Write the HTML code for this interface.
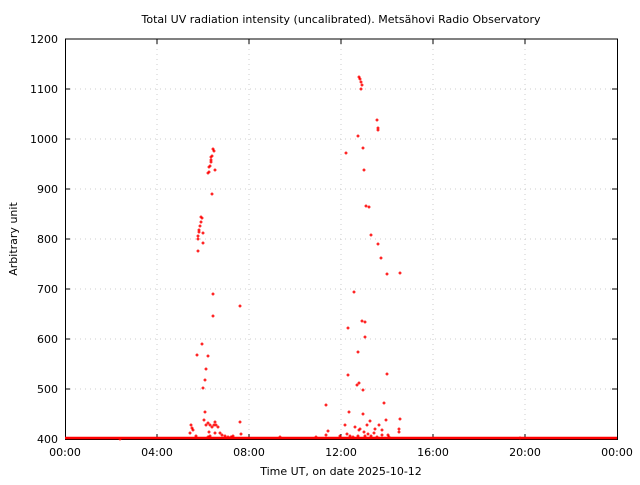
<!DOCTYPE html>
<html><head><meta charset="utf-8"><style>
html,body{margin:0;padding:0;background:#fff;}
text{font-family:"DejaVu Sans","Liberation Sans",sans-serif;font-size:11px;fill:#000;}
</style></head><body>
<svg width="640" height="480" xmlns="http://www.w3.org/2000/svg" xmlns:xlink="http://www.w3.org/1999/xlink">
<defs><path id="c" d="M-1.5 0h3M0 -1.5v3" stroke="#f00" stroke-width="1.2" fill="none"/></defs>
<rect width="640" height="480" fill="#fff"/>
<text x="341" y="23" text-anchor="middle">Total UV radiation intensity (uncalibrated). Metsähovi Radio Observatory</text>
<g stroke="#ccc" stroke-dasharray="1,4" stroke-width="1">
<line x1="65" y1="89" x2="617" y2="89"/><line x1="65" y1="139" x2="617" y2="139"/><line x1="65" y1="189" x2="617" y2="189"/><line x1="65" y1="239" x2="617" y2="239"/><line x1="65" y1="289" x2="617" y2="289"/><line x1="65" y1="339" x2="617" y2="339"/><line x1="65" y1="389" x2="617" y2="389"/>
<line x1="157" y1="39" x2="157" y2="439"/><line x1="249" y1="39" x2="249" y2="439"/><line x1="341" y1="39" x2="341" y2="439"/><line x1="433" y1="39" x2="433" y2="439"/><line x1="525" y1="39" x2="525" y2="439"/>
</g>
<g stroke="#000" stroke-width="1">
<path d="M65.5 39v400.5h552V39z" fill="none"/>
<path d="M65 89h5M65 139h5M65 189h5M65 239h5M65 289h5M65 339h5M65 389h5M617 89h-5M617 139h-5M617 189h-5M617 239h-5M617 289h-5M617 339h-5M617 389h-5M157 439v-5M249 439v-5M341 439v-5M433 439v-5M525 439v-5M157 39v5M249 39v5M341 39v5M433 39v5M525 39v5"/>
</g>
<g text-anchor="end">
<text x="58" y="443">400</text><text x="58" y="393">500</text><text x="58" y="343">600</text><text x="58" y="293">700</text><text x="58" y="243">800</text><text x="58" y="193">900</text><text x="58" y="143">1000</text><text x="58" y="93">1100</text><text x="58" y="43">1200</text>
</g>
<g text-anchor="middle">
<text x="65" y="456">00:00</text><text x="157" y="456">04:00</text><text x="249" y="456">08:00</text><text x="341" y="456">12:00</text><text x="433" y="456">16:00</text><text x="525" y="456">20:00</text><text x="617" y="456">00:00</text>
<text x="341" y="475">Time UT, on date 2025-10-12</text>
</g>
<text transform="translate(17,239) rotate(-90)" text-anchor="middle">Arbitrary unit</text>
<line x1="65" y1="438" x2="617" y2="438" stroke="#f00" stroke-width="2.5"/>
<g>
<use xlink:href="#c" x="213" y="149"/><use xlink:href="#c" x="214" y="151"/><use xlink:href="#c" x="212" y="156"/><use xlink:href="#c" x="211" y="157"/><use xlink:href="#c" x="211" y="160"/><use xlink:href="#c" x="211" y="162"/><use xlink:href="#c" x="210" y="166"/><use xlink:href="#c" x="209" y="167"/><use xlink:href="#c" x="209" y="172"/><use xlink:href="#c" x="208" y="173"/><use xlink:href="#c" x="215" y="170"/><use xlink:href="#c" x="212" y="194"/><use xlink:href="#c" x="201" y="217"/><use xlink:href="#c" x="202" y="218"/><use xlink:href="#c" x="201" y="222"/><use xlink:href="#c" x="200" y="226"/><use xlink:href="#c" x="199" y="230"/><use xlink:href="#c" x="199" y="232"/><use xlink:href="#c" x="198" y="236"/><use xlink:href="#c" x="198" y="239"/><use xlink:href="#c" x="203" y="233"/><use xlink:href="#c" x="203" y="243"/><use xlink:href="#c" x="198" y="251"/><use xlink:href="#c" x="213" y="294"/><use xlink:href="#c" x="213" y="316"/><use xlink:href="#c" x="240" y="306"/><use xlink:href="#c" x="197" y="355"/><use xlink:href="#c" x="202" y="344"/><use xlink:href="#c" x="205" y="380"/><use xlink:href="#c" x="208" y="356"/><use xlink:href="#c" x="203" y="388"/><use xlink:href="#c" x="206" y="369"/><use xlink:href="#c" x="205" y="412"/><use xlink:href="#c" x="204" y="420"/><use xlink:href="#c" x="206" y="425"/><use xlink:href="#c" x="208" y="423"/><use xlink:href="#c" x="209" y="432"/><use xlink:href="#c" x="210" y="436"/><use xlink:href="#c" x="208" y="437"/><use xlink:href="#c" x="191" y="425"/><use xlink:href="#c" x="192" y="428"/><use xlink:href="#c" x="193" y="430"/><use xlink:href="#c" x="190" y="433"/><use xlink:href="#c" x="210" y="425"/><use xlink:href="#c" x="212" y="427"/><use xlink:href="#c" x="214" y="425"/><use xlink:href="#c" x="215" y="422"/><use xlink:href="#c" x="216" y="425"/><use xlink:href="#c" x="218" y="427"/><use xlink:href="#c" x="220" y="433"/><use xlink:href="#c" x="222" y="435"/><use xlink:href="#c" x="225" y="436"/><use xlink:href="#c" x="228" y="437"/><use xlink:href="#c" x="231" y="437"/><use xlink:href="#c" x="240" y="422"/><use xlink:href="#c" x="241" y="434"/><use xlink:href="#c" x="233" y="436"/><use xlink:href="#c" x="215" y="433"/><use xlink:href="#c" x="196" y="436"/><use xlink:href="#c" x="120" y="439"/>
<use xlink:href="#c" x="359" y="77"/><use xlink:href="#c" x="360" y="79"/><use xlink:href="#c" x="361" y="82"/><use xlink:href="#c" x="362" y="85"/><use xlink:href="#c" x="361" y="89"/><use xlink:href="#c" x="358" y="136"/><use xlink:href="#c" x="346" y="153"/><use xlink:href="#c" x="363" y="148"/><use xlink:href="#c" x="364" y="170"/><use xlink:href="#c" x="366" y="206"/><use xlink:href="#c" x="369" y="207"/><use xlink:href="#c" x="371" y="235"/><use xlink:href="#c" x="377" y="120"/><use xlink:href="#c" x="378" y="128"/><use xlink:href="#c" x="378" y="130"/><use xlink:href="#c" x="378" y="244"/><use xlink:href="#c" x="381" y="258"/><use xlink:href="#c" x="387" y="274"/><use xlink:href="#c" x="400" y="273"/><use xlink:href="#c" x="354" y="292"/><use xlink:href="#c" x="362" y="321"/><use xlink:href="#c" x="365" y="322"/><use xlink:href="#c" x="365" y="337"/><use xlink:href="#c" x="348" y="328"/><use xlink:href="#c" x="358" y="352"/>
<use xlink:href="#c" x="348" y="375"/><use xlink:href="#c" x="387" y="374"/><use xlink:href="#c" x="357" y="385"/><use xlink:href="#c" x="359" y="383"/><use xlink:href="#c" x="363" y="390"/><use xlink:href="#c" x="326" y="405"/><use xlink:href="#c" x="384" y="403"/><use xlink:href="#c" x="349" y="412"/><use xlink:href="#c" x="363" y="414"/><use xlink:href="#c" x="386" y="420"/><use xlink:href="#c" x="400" y="419"/><use xlink:href="#c" x="370" y="421"/><use xlink:href="#c" x="345" y="425"/><use xlink:href="#c" x="355" y="427"/><use xlink:href="#c" x="367" y="425"/><use xlink:href="#c" x="379" y="425"/><use xlink:href="#c" x="328" y="431"/><use xlink:href="#c" x="359" y="430"/><use xlink:href="#c" x="360" y="429"/><use xlink:href="#c" x="364" y="432"/><use xlink:href="#c" x="375" y="429"/><use xlink:href="#c" x="382" y="430"/><use xlink:href="#c" x="399" y="429"/><use xlink:href="#c" x="399" y="432"/><use xlink:href="#c" x="326" y="435"/><use xlink:href="#c" x="347" y="434"/><use xlink:href="#c" x="350" y="436"/><use xlink:href="#c" x="353" y="437"/><use xlink:href="#c" x="358" y="436"/><use xlink:href="#c" x="365" y="436"/><use xlink:href="#c" x="368" y="434"/><use xlink:href="#c" x="371" y="436"/><use xlink:href="#c" x="374" y="433"/><use xlink:href="#c" x="377" y="437"/><use xlink:href="#c" x="382" y="435"/><use xlink:href="#c" x="388" y="435"/><use xlink:href="#c" x="389" y="437"/><use xlink:href="#c" x="340" y="436"/><use xlink:href="#c" x="316" y="437"/><use xlink:href="#c" x="280" y="437"/><use xlink:href="#c" x="520" y="438"/>
</g>
</svg>
</body></html>
